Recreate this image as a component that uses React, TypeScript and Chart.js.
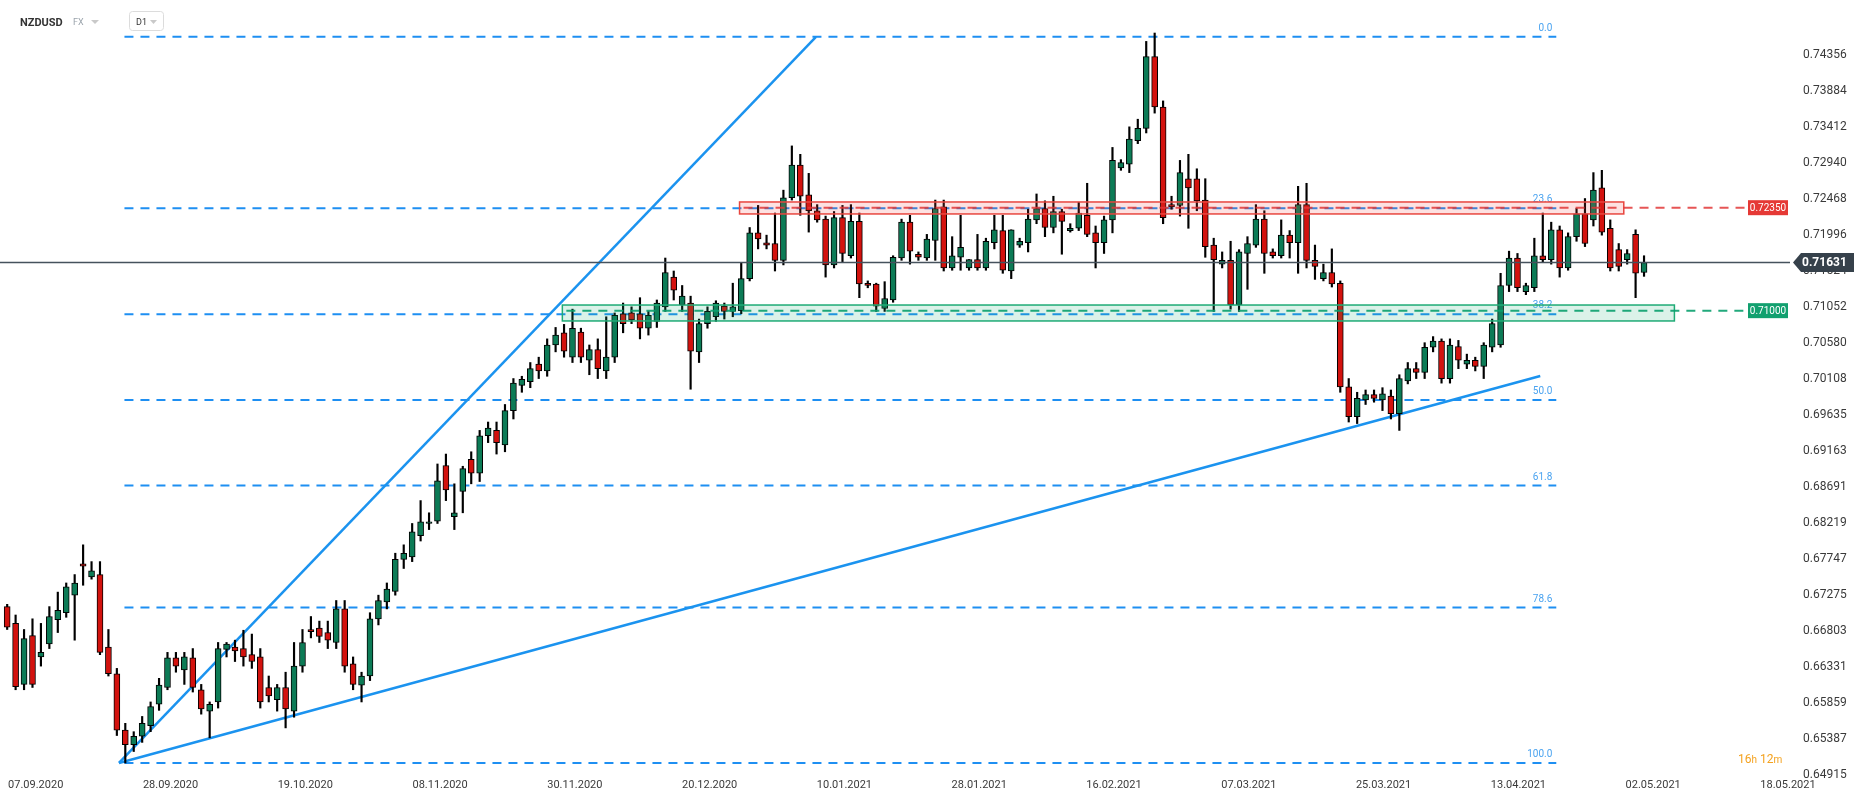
import React, { useEffect, useRef } from "react";
import { Chart, registerables } from "chart.js";

Chart.register(...registerables);

const W = 1866;
const H = 805;

const symbol = "NZDUSD";
const market = "FX";
const interval = "D1";
const countdown = ["16", "h", " 12", "m"];

// Daily candles (index 0 = first visible candle)
const opens = [
  0.6712, 0.669, 0.661, 0.6674, 0.6646, 0.6663, 0.6695, 0.6704, 0.6727, 0.6768,
  0.6751, 0.6754, 0.6659, 0.6624, 0.655, 0.6531, 0.6542, 0.6556, 0.6584, 0.6606,
  0.6645, 0.6629, 0.6645, 0.6603, 0.6575, 0.6587, 0.6656, 0.6659, 0.6657, 0.6649,
  0.6646, 0.6606, 0.659, 0.6606, 0.6575, 0.6634, 0.6682, 0.6684, 0.6678, 0.6665,
  0.6709, 0.6637, 0.6609, 0.6621, 0.6696, 0.6718, 0.6732, 0.6774, 0.6777, 0.6805,
  0.6821, 0.6824, 0.6897, 0.683, 0.6863, 0.6905, 0.6887, 0.6936, 0.6943, 0.6924,
  0.6969, 0.7002, 0.7007, 0.703, 0.7021, 0.7055, 0.7071, 0.7039, 0.7072, 0.7035,
  0.7049, 0.7021, 0.7039, 0.7096, 0.7097, 0.7096, 0.7077, 0.7086, 0.7105, 0.7144,
  0.7108, 0.711, 0.7046, 0.7083, 0.7092, 0.7106, 0.7099, 0.71, 0.7142, 0.7202,
  0.7189, 0.7188, 0.7166, 0.7248, 0.7291, 0.7252, 0.7231, 0.722, 0.716, 0.7222,
  0.7172, 0.7217, 0.7136, 0.7135, 0.7103, 0.7114, 0.7169, 0.7216, 0.7174, 0.7169,
  0.7192, 0.7236, 0.7156, 0.717, 0.7156, 0.7167, 0.7156, 0.7189, 0.7205, 0.7152,
  0.7186, 0.7189, 0.7219, 0.7234, 0.7209, 0.723, 0.7205, 0.7208, 0.7225, 0.7202,
  0.7189, 0.7219, 0.7287, 0.7292, 0.7323, 0.7339, 0.7433, 0.7367, 0.7239, 0.7238,
  0.7273, 0.7273, 0.7245, 0.7186, 0.7161, 0.7166, 0.7108, 0.7175, 0.7186, 0.722,
  0.7177, 0.7172, 0.7199, 0.7189, 0.7239, 0.7166, 0.7142, 0.715, 0.7136, 0.7,
  0.6961, 0.6983, 0.699, 0.6983, 0.6988, 0.6965, 0.7008, 0.7024, 0.7019, 0.7052,
  0.706, 0.7011, 0.7053, 0.703, 0.7035, 0.7027, 0.7052, 0.7055, 0.7133, 0.7169,
  0.7125, 0.713, 0.7172, 0.7167, 0.7206, 0.7156, 0.7197, 0.7227, 0.7219, 0.7261,
  0.7208, 0.718, 0.7167, 0.72, 0.715,
];
const highs = [
  0.6715, 0.6701, 0.6682, 0.6696, 0.669, 0.6712, 0.6731, 0.6743, 0.6754, 0.6793,
  0.6771, 0.6771, 0.6682, 0.6631, 0.6559, 0.6548, 0.6568, 0.6587, 0.6618, 0.6652,
  0.6652, 0.6652, 0.6657, 0.661, 0.6587, 0.6665, 0.6665, 0.6668, 0.6681, 0.6676,
  0.6657, 0.6621, 0.661, 0.6626, 0.6665, 0.6682, 0.6699, 0.6693, 0.6693, 0.672,
  0.672, 0.6646, 0.6626, 0.6704, 0.6727, 0.6743, 0.6782, 0.6793, 0.6821, 0.6851,
  0.6835, 0.6899, 0.6912, 0.6873, 0.6896, 0.6915, 0.6943, 0.6954, 0.6954, 0.6977,
  0.7011, 0.7014, 0.7032, 0.7039, 0.7063, 0.7078, 0.7082, 0.7102, 0.7077, 0.7055,
  0.7063, 0.7092, 0.7097, 0.711, 0.7105, 0.7117, 0.7099, 0.7114, 0.7169, 0.7152,
  0.7133, 0.7119, 0.7089, 0.7105, 0.7113, 0.711, 0.7136, 0.7163, 0.7209, 0.7238,
  0.7199, 0.7228, 0.7258, 0.7316, 0.7305, 0.728, 0.7239, 0.7224, 0.723, 0.7238,
  0.7239, 0.7228, 0.7139, 0.7136, 0.7138, 0.7172, 0.722, 0.7225, 0.7177, 0.72,
  0.7245, 0.7245, 0.7197, 0.7225, 0.7167, 0.72, 0.7195, 0.7225, 0.7225, 0.7206,
  0.7195, 0.7233, 0.7253, 0.7244, 0.725, 0.7233, 0.7214, 0.7242, 0.7267, 0.7211,
  0.7224, 0.7314, 0.7298, 0.7341, 0.7351, 0.7453, 0.7464, 0.7375, 0.725, 0.7297,
  0.7305, 0.7286, 0.7273, 0.7195, 0.7177, 0.7191, 0.718, 0.7197, 0.7239, 0.7231,
  0.7181, 0.7219, 0.7205, 0.7263, 0.7267, 0.7186, 0.7161, 0.7181, 0.7139, 0.7011,
  0.6993, 0.6996, 0.6996, 0.6999, 0.6996, 0.7016, 0.7032, 0.7032, 0.7058, 0.7066,
  0.7063, 0.7063, 0.7061, 0.7043, 0.7039, 0.7058, 0.7089, 0.7149, 0.7178, 0.7175,
  0.7136, 0.7195, 0.7228, 0.7216, 0.7211, 0.7202, 0.7234, 0.7247, 0.7281, 0.7284,
  0.7219, 0.7188, 0.718, 0.7206, 0.7172,
];
const lows = [
  0.6682, 0.6603, 0.6603, 0.6606, 0.6634, 0.6657, 0.6678, 0.6698, 0.6668, 0.674,
  0.6748, 0.6649, 0.6621, 0.6543, 0.6507, 0.6522, 0.6534, 0.6548, 0.6576, 0.6603,
  0.6626, 0.661, 0.66, 0.6571, 0.654, 0.6579, 0.6646, 0.664, 0.6634, 0.6631,
  0.6579, 0.6587, 0.6575, 0.6553, 0.6567, 0.6626, 0.6671, 0.6665, 0.6657, 0.6657,
  0.6626, 0.6603, 0.6587, 0.6615, 0.6688, 0.6709, 0.6727, 0.6762, 0.6771, 0.6798,
  0.6813, 0.6821, 0.6851, 0.6813, 0.6835, 0.6873, 0.6876, 0.6927, 0.6912, 0.6915,
  0.6958, 0.6993, 0.6999, 0.7011, 0.7014, 0.7046, 0.7039, 0.7032, 0.7032, 0.7016,
  0.7011, 0.7011, 0.7032, 0.7071, 0.7083, 0.7063, 0.7068, 0.7078, 0.7099, 0.7114,
  0.7099, 0.6997, 0.7032, 0.7077, 0.7086, 0.7089, 0.7092, 0.7096, 0.7139, 0.7181,
  0.7181, 0.7152, 0.716, 0.7245, 0.7225, 0.7203, 0.7216, 0.7144, 0.7156, 0.7164,
  0.7169, 0.7117, 0.713, 0.7099, 0.7099, 0.7111, 0.7166, 0.7161, 0.7166, 0.7166,
  0.7166, 0.7152, 0.7153, 0.7153, 0.7153, 0.7153, 0.7153, 0.7181, 0.7149, 0.7142,
  0.7183, 0.7177, 0.7214, 0.7197, 0.7202, 0.7174, 0.7203, 0.7205, 0.7197, 0.7156,
  0.7175, 0.7202, 0.7284, 0.7281, 0.7319, 0.7333, 0.7359, 0.7214, 0.7233, 0.7224,
  0.7208, 0.7231, 0.717, 0.7099, 0.7156, 0.7102, 0.7099, 0.7128, 0.7183, 0.7149,
  0.7169, 0.7169, 0.7169, 0.7149, 0.7156, 0.7141, 0.7139, 0.7131, 0.6993, 0.6954,
  0.6952, 0.6977, 0.698, 0.6969, 0.6958, 0.6943, 0.7004, 0.7011, 0.7011, 0.7046,
  0.7005, 0.7005, 0.7024, 0.7024, 0.7021, 0.7011, 0.7046, 0.7052, 0.7125, 0.7125,
  0.7121, 0.7125, 0.7163, 0.7161, 0.7144, 0.7153, 0.7191, 0.7184, 0.7211, 0.7199,
  0.7152, 0.7152, 0.7161, 0.7117, 0.7145,
];
const closes = [
  0.6685, 0.6607, 0.667, 0.661, 0.6652, 0.6699, 0.6707, 0.6738, 0.6743, 0.6765,
  0.6759, 0.6652, 0.6624, 0.655, 0.6531, 0.6542, 0.6559, 0.6581, 0.6609, 0.6645,
  0.6634, 0.6646, 0.6606, 0.6578, 0.6584, 0.6657, 0.6663, 0.6654, 0.6646, 0.664,
  0.6587, 0.6595, 0.6606, 0.6578, 0.6634, 0.6665, 0.6679, 0.6673, 0.6668, 0.6709,
  0.6634, 0.661, 0.6621, 0.6696, 0.672, 0.6735, 0.6774, 0.6782, 0.681, 0.6823,
  0.6823, 0.6877, 0.6865, 0.6835, 0.6893, 0.6887, 0.6936, 0.6946, 0.6927, 0.6969,
  0.7005, 0.701, 0.7024, 0.7021, 0.7055, 0.7068, 0.7047, 0.7077, 0.7039, 0.7049,
  0.7024, 0.7039, 0.7094, 0.7083, 0.7088, 0.7077, 0.7094, 0.711, 0.715, 0.7127,
  0.7119, 0.7047, 0.7083, 0.7099, 0.711, 0.7099, 0.7105, 0.7142, 0.7202, 0.7194,
  0.7186, 0.7166, 0.7248, 0.7291, 0.725, 0.7231, 0.7219, 0.716, 0.7222, 0.7175,
  0.7217, 0.7135, 0.7133, 0.7106, 0.7116, 0.717, 0.7216, 0.7178, 0.717, 0.7194,
  0.7234, 0.7156, 0.7172, 0.7183, 0.7167, 0.7156, 0.7191, 0.7206, 0.7153, 0.7206,
  0.7191, 0.722, 0.7234, 0.7209, 0.723, 0.7217, 0.7208, 0.7228, 0.72, 0.7189,
  0.7219, 0.7297, 0.7294, 0.7325, 0.7339, 0.7433, 0.7367, 0.7222, 0.7236, 0.7281,
  0.7261, 0.7244, 0.7184, 0.7167, 0.7166, 0.7108, 0.7177, 0.7188, 0.722, 0.7175,
  0.7172, 0.7199, 0.7189, 0.7239, 0.7166, 0.7158, 0.715, 0.7135, 0.7, 0.6961,
  0.6985, 0.699, 0.6985, 0.6991, 0.6965, 0.7011, 0.7024, 0.7019, 0.7052, 0.706,
  0.7011, 0.7055, 0.7035, 0.7035, 0.7027, 0.7055, 0.7083, 0.7133, 0.7169, 0.713,
  0.7133, 0.7172, 0.7167, 0.7206, 0.7156, 0.7197, 0.7227, 0.7188, 0.7258, 0.7203,
  0.7156, 0.7158, 0.7175, 0.7149, 0.71631,
];

// Axis ticks
const xTickPositions = [3.38, 19.36, 35.33, 51.31, 67.28, 83.26, 99.23, 115.21, 131.18, 147.16, 163.13, 179.11, 195.08, 211.06];
const xTickLabels = [
  "07.09.2020", "28.09.2020", "19.10.2020", "08.11.2020", "30.11.2020", "20.12.2020", "10.01.2021",
  "28.01.2021", "16.02.2021", "07.03.2021", "25.03.2021", "13.04.2021", "02.05.2021", "18.05.2021",
];
const yTicks = [
  0.74356, 0.73884, 0.73412, 0.7294, 0.72468, 0.71996, 0.71524, 0.71052, 0.7058, 0.70108, 0.69635,
  0.69163, 0.68691, 0.68219, 0.67747, 0.67275, 0.66803, 0.66331, 0.65859, 0.65387, 0.64915,
];
const xMin = -0.85;
const xMax = 211.3;
const yMin = 0.64873;
const yMax = 0.75073;

// Fibonacci retracement
const fibLevels = [0.7459, 0.72343, 0.70953, 0.6983, 0.68707, 0.67107, 0.6507];
const fibLabels = ["0.0", "23.6", "38.2", "50.0", "61.8", "78.6", "100.0"];
const fibRange = [13.9, 183.6];

// Trend lines (index, price)
const steepTrendX = [13.25, 95.86];
const steepTrendY = [0.6507, 0.7459];
const lowerTrendX = [13.25, 181.7];
const lowerTrendY = [0.6507, 0.70143];

// Horizontal levels / zones
const currentPrice = 0.71631;
const resistanceLevel = 0.7235;
const resistanceZone = [86.8, 191.6, 0.72268, 0.72425]; // from, to, low, high
const supportLevel = 0.71;
const supportZone = [65.8, 197.6, 0.70865, 0.71074];

const UP = "#0c7b56";
const DOWN = "#d3120e";
const FIB = "#1e8ff2";
const TREND = "#1b93ef";
const FONT = "Roboto, 'Liberation Sans', Arial, sans-serif";

const overlayPlugin = {
  id: "overlay",
  afterDatasetsDraw(chart: any) {
    const { ctx, chartArea } = chart;
    const xs = chart.scales.x;
    const ys = chart.scales.y;
    ctx.save();

    // fib labels
    ctx.font = `10px ${FONT}`;
    ctx.fillStyle = "#4aa3f0";
    ctx.textAlign = "right";
    ctx.textBaseline = "alphabetic";
    const fx = xs.getPixelForValue(fibRange[1]) - 4;
    fibLevels.forEach((lv, k) => {
      ctx.fillText(fibLabels[k], fx, ys.getPixelForValue(lv) - 6);
    });

    const labelLeft = chartArea.right - 42;
    const zones: any[] = [
      { z: resistanceZone, level: resistanceLevel, fill: "rgba(240,70,70,0.16)", stroke: "#e8463f", line: "rgba(226,55,55,0.85)", box: "#e53935" },
      { z: supportZone, level: supportLevel, fill: "rgba(30,175,120,0.16)", stroke: "#1fab76", line: "rgba(10,160,110,0.9)", box: "#12a06f" },
    ];
    zones.forEach((o) => {
      const x0 = xs.getPixelForValue(o.z[0]);
      const x1 = xs.getPixelForValue(o.z[1]);
      const yTop = ys.getPixelForValue(o.z[3]);
      const yBot = ys.getPixelForValue(o.z[2]);
      ctx.fillStyle = o.fill;
      ctx.fillRect(x0, yTop, x1 - x0, yBot - yTop);
      ctx.strokeStyle = o.stroke;
      ctx.lineWidth = 1.5;
      ctx.strokeRect(x0, yTop, x1 - x0, yBot - yTop);
      const yl = ys.getPixelForValue(o.level);
      ctx.setLineDash([9, 7]);
      ctx.strokeStyle = o.line;
      ctx.lineWidth = 2;
      ctx.beginPath();
      ctx.moveTo(x0 + 4, yl);
      ctx.lineTo(labelLeft, yl);
      ctx.stroke();
      ctx.setLineDash([]);
      ctx.fillStyle = o.box;
      ctx.fillRect(labelLeft, yl - 7.5, 40, 15);
      ctx.fillStyle = "#fff";
      ctx.font = `10px ${FONT}`;
      ctx.textAlign = "center";
      ctx.textBaseline = "middle";
      ctx.fillText(o.level.toFixed(5), labelLeft + 20, yl + 0.5);
    });

    // current price line
    const yp = ys.getPixelForValue(currentPrice);
    ctx.strokeStyle = "#46525d";
    ctx.lineWidth = 1.5;
    ctx.beginPath();
    ctx.moveTo(chartArea.left, yp);
    ctx.lineTo(chartArea.right, yp);
    ctx.stroke();

    // countdown
    ctx.fillStyle = "#f4a21f";
    ctx.textAlign = "left";
    ctx.textBaseline = "alphabetic";
    let cx = chartArea.right - 52;
    const cy = chartArea.bottom - 15;
    countdown.forEach((t, k) => {
      ctx.font = k % 2 === 0 ? `12px ${FONT}` : `10px ${FONT}`;
      ctx.fillText(t, cx, cy);
      cx += ctx.measureText(t).width;
    });
    ctx.restore();
  },
  afterDraw(chart: any) {
    const { ctx, chartArea } = chart;
    const ys = chart.scales.y;
    ctx.save();
    // current price tag
    const yp = ys.getPixelForValue(currentPrice);
    const l = chartArea.right + 3;
    ctx.fillStyle = "#36414b";
    ctx.beginPath();
    ctx.moveTo(l, yp);
    ctx.lineTo(l + 8, yp - 9.5);
    ctx.lineTo(1854, yp - 9.5);
    ctx.lineTo(1854, yp + 9.5);
    ctx.lineTo(l + 8, yp + 9.5);
    ctx.closePath();
    ctx.fill();
    ctx.fillStyle = "#fff";
    ctx.font = `bold 12px ${FONT}`;
    ctx.textAlign = "left";
    ctx.textBaseline = "middle";
    ctx.fillText(currentPrice.toFixed(5), chartArea.right + 12, yp + 0.5);

    // header
    ctx.textBaseline = "alphabetic";
    ctx.fillStyle = "#333";
    ctx.font = `bold 11px ${FONT}`;
    ctx.fillText(symbol, 20, 26);
    ctx.fillStyle = "#9aa3ab";
    ctx.font = `9px ${FONT}`;
    ctx.fillText(market, 73, 25);
    ctx.fillStyle = "#c9c9c9";
    ctx.beginPath();
    ctx.moveTo(91, 20);
    ctx.lineTo(99, 20);
    ctx.lineTo(95, 24);
    ctx.closePath();
    ctx.fill();
    ctx.strokeStyle = "#dcdcdc";
    ctx.lineWidth = 1;
    ctx.beginPath();
    ctx.roundRect(129.5, 11.5, 34, 19, 3);
    ctx.stroke();
    ctx.fillStyle = "#333";
    ctx.font = `9px ${FONT}`;
    ctx.fillText(interval, 136, 25);
    ctx.fillStyle = "#c9c9c9";
    ctx.beginPath();
    ctx.moveTo(150, 20);
    ctx.lineTo(157, 20);
    ctx.lineTo(153.5, 24);
    ctx.closePath();
    ctx.fill();
    ctx.restore();
  },
};

export default function App() {
  const ref = useRef<HTMLCanvasElement>(null);
  useEffect(() => {
    const canvas = ref.current;
    if (!canvas) return;
    const idx = opens.map((_, i) => i);
    const bodies = idx.map((i) => ({ x: i, y: [Math.min(opens[i], closes[i]), Math.max(opens[i], closes[i])] }));
    const wicks = idx.map((i) => ({ x: i, y: [lows[i], highs[i]] }));
    const bodyColors = idx.map((i) => (closes[i] >= opens[i] ? UP : DOWN));

    const fibSets = fibLevels.map((lv) => ({
      type: "line",
      data: [
        { x: fibRange[0], y: lv },
        { x: fibRange[1], y: lv },
      ],
      borderColor: FIB,
      borderWidth: 2,
      borderDash: [9, 7],
      pointRadius: 0,
      fill: false,
      order: 4,
    }));
    const trendSets = [
      [steepTrendX, steepTrendY],
      [lowerTrendX, lowerTrendY],
    ].map(([xv, yv]) => ({
      type: "line",
      data: xv.map((xx, k) => ({ x: xx, y: yv[k] })),
      borderColor: TREND,
      borderWidth: 2.5,
      pointRadius: 0,
      fill: false,
      order: 3,
    }));

    const chart = new Chart(canvas, {
      type: "bar",
      data: {
        datasets: [
          {
            type: "bar",
            data: bodies,
            backgroundColor: bodyColors,
            borderColor: "#000",
            borderWidth: 1,
            borderSkipped: false,
            barThickness: 6,
            grouped: false,
            order: 0,
          },
          {
            type: "bar",
            data: wicks,
            backgroundColor: "#000",
            borderWidth: 0,
            barThickness: 1.5,
            grouped: false,
            order: 1,
          },
          ...trendSets,
          ...fibSets,
        ] as any,
      },
      options: {
        animation: false,
        responsive: false,
        devicePixelRatio: 1,
        events: [],
        layout: { padding: 0 },
        plugins: { legend: { display: false }, tooltip: { enabled: false } },
        scales: {
          x: {
            type: "linear",
            min: xMin,
            max: xMax,
            offset: false,
            grid: { display: false, drawTicks: false },
            border: { display: false },
            afterBuildTicks: (scale: any) => {
              scale.ticks = xTickPositions.map((v) => ({ value: v }));
            },
            afterFit: (scale: any) => {
              scale.height = 27;
              scale.paddingLeft = 0;
              scale.paddingRight = 0;
            },
            ticks: {
              autoSkip: false,
              maxRotation: 0,
              minRotation: 0,
              padding: 1,
              color: "#3a3a3a",
              font: { family: FONT, size: 11 },
              callback: (_v: any, i: number) => xTickLabels[i],
            },
          },
          y: {
            type: "linear",
            position: "right",
            min: yMin,
            max: yMax,
            grid: { display: false, drawTicks: false },
            border: { display: false },
            afterBuildTicks: (scale: any) => {
              scale.ticks = yTicks.map((v) => ({ value: v }));
            },
            afterFit: (scale: any) => {
              scale.width = 76;
              scale.paddingTop = 0;
              scale.paddingBottom = 0;
            },
            ticks: {
              autoSkip: false,
              padding: 13,
              color: "#3a3a3a",
              font: { family: FONT, size: 12 },
              callback: (v: any) => Number(v).toFixed(5),
            },
          },
        },
      } as any,
      plugins: [overlayPlugin],
    });
    return () => chart.destroy();
  }, []);

  return (
    <div style={{ position: "fixed", left: 0, top: 0, width: W, height: H, background: "#fff" }}>
      <canvas ref={ref} width={W} height={H} style={{ display: "block", width: W, height: H }} />
    </div>
  );
}
